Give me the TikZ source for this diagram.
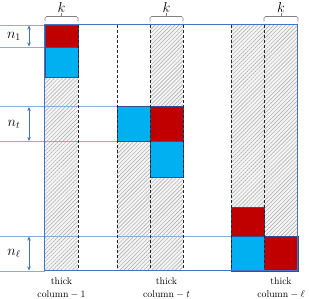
\documentclass[tikz,border=0pt]{standalone}
\usetikzlibrary{patterns.meta,arrows.meta}
\definecolor{cred}{HTML}{C00000}
\definecolor{cblue}{HTML}{00B0F0}
\definecolor{frameblue}{HTML}{4472C4}
\definecolor{edgeblue}{HTML}{2F528F}
\definecolor{lineblue}{HTML}{8FAADC}
\definecolor{hatchbg}{HTML}{F4F4F4}
\begin{document}
\begin{tikzpicture}[x=1pt,y=-1pt,
  hatch/.style={fill=hatchbg, postaction={pattern={Lines[angle=45, distance=2.8pt, line width=0.45pt]}, pattern color=gray!70}},
  redbox/.style={fill=cred, draw=edgeblue, line width=0.4pt},
  bluebox/.style={fill=cblue, draw=edgeblue, line width=0.4pt},
  sep/.style={dashed, dash pattern=on 3pt off 2pt, line width=0.8pt, black!85},
  guide/.style={lineblue, line width=0.7pt},
  dim/.style={frameblue, line width=0.8pt, {Stealth[length=4pt,width=3.5pt]}-{Stealth[length=4pt,width=3.5pt]}},
  kbracket/.style={gray, line width=0.7pt, rounded corners=1.5pt},
  mlabel/.style={font=\fontsize{14.5}{16}\selectfont, inner sep=0pt},
  blabel/.style={font=\fontsize{9.8}{12.8}\selectfont, align=center, inner sep=0pt}
]
\useasboundingbox (0,0) rectangle (309,299);
% hatched areas
\fill[hatch] (45,77) rectangle (78,271);
\fill[hatch] (117,141.5) rectangle (150,271);
\fill[hatch] (150,25) rectangle (183,106.5);
\fill[hatch] (150,177) rectangle (183,271);
\fill[hatch] (231,25) rectangle (264,207);
\fill[hatch] (264,25) rectangle (298,236);
% guide lines
\draw[guide] (0,25) -- (45,25);
\draw[guide] (0,47) -- (45,47);
\draw[guide] (0,106.5) -- (117,106.5);
\draw[guide] (0,141.5) -- (117,141.5);
\draw[guide] (0,236) -- (231,236);
\draw[guide] (0,271) -- (45,271);
% coloured blocks
\filldraw[redbox] (45,25) rectangle (78,47);
\filldraw[bluebox] (45,47) rectangle (78,77);
\filldraw[bluebox] (117,106.5) rectangle (150,141.5);
\filldraw[redbox] (150,106.5) rectangle (183,141.5);
\filldraw[bluebox] (150,141.5) rectangle (183,177);
\filldraw[redbox] (231,207) rectangle (264,236);
\filldraw[bluebox] (231,236) rectangle (264,271);
\filldraw[redbox] (264,236) rectangle (298,271);
% dashed separators
\foreach \x in {78,117,150,183,231,264} \draw[sep] (\x,25) -- (\x,271);
% frame
\draw[frameblue, line width=1pt] (45,25) rectangle (298,271);
% dimension arrows
\coordinate (a1t) at (29,25.5); \coordinate (a1b) at (29,46.5);
\coordinate (att) at (29,107); \coordinate (atb) at (29,141);
\coordinate (aLt) at (29,236.5); \coordinate (aLb) at (29,270.5);
\draw[dim] (a1t) -- (a1b);
\draw[dim] (att) -- (atb);
\draw[dim] (aLt) -- (aLb);
\node[mlabel] (n1) at (14,36) {$n_1$};
\node[mlabel] (nt) at (14,124) {$n_t$};
\node[mlabel] (nL) at (14,253) {$n_\ell$};
% k brackets
\foreach \l/\r in {45/78, 150/183, 264/298} {
  \draw[kbracket] (\l,21.5) -- (\l,16.5) -- (\r,16.5) -- (\r,21.5);
  \draw[gray, line width=0.7pt] ({(\l+\r)/2},16.5) -- ({(\l+\r)/2},13.5);
}
\node[mlabel] (k1) at (61.5,7.5) {$k$};
\node[mlabel] (kt) at (166.5,7.5) {$k$};
\node[mlabel] (kL) at (281,7.5) {$k$};
% bottom labels
\node[blabel] (c1) at (61.5,288) {thick\\column${}-{}$1};
\node[blabel] (ct) at (166.5,288) {thick\\column${}-t$};
\node[blabel] (cL) at (281,288) {thick\\column${}-\ell$};
\end{tikzpicture}
\end{document}
